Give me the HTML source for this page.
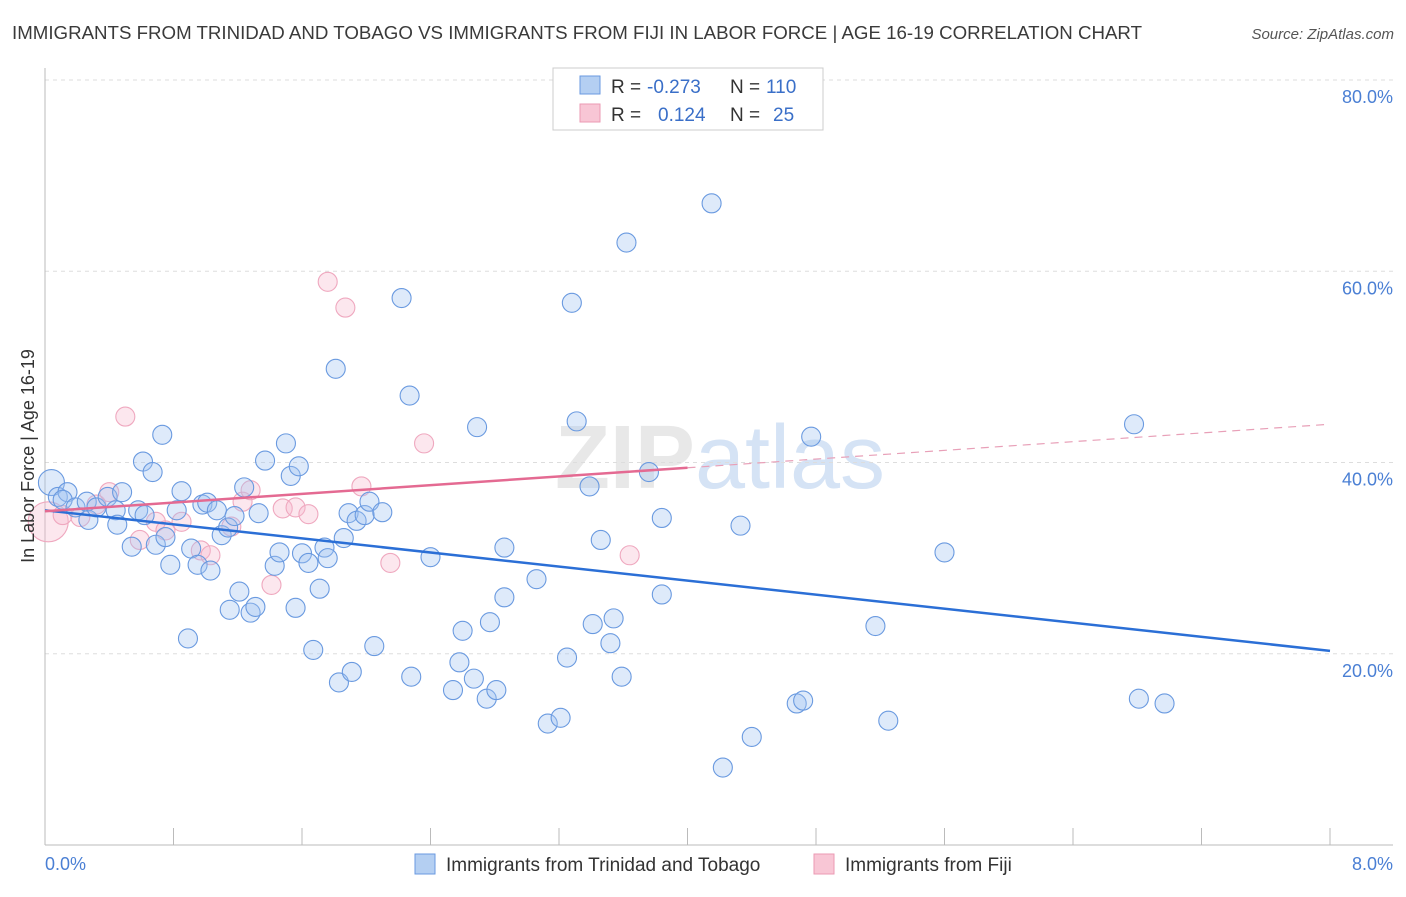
<!DOCTYPE html>
<html><head><meta charset="utf-8"><style>
body{margin:0;background:#fff;font-family:"Liberation Sans",sans-serif}
svg text{font-family:"Liberation Sans",sans-serif}
</style></head><body>
<svg id="chart" width="1406" height="892">
<text x="12" y="39" font-size="18" fill="#3a3a3a" textLength="1130" lengthAdjust="spacingAndGlyphs">IMMIGRANTS FROM TRINIDAD AND TOBAGO VS IMMIGRANTS FROM FIJI IN LABOR FORCE | AGE 16-19 CORRELATION CHART</text>
<text x="1394" y="39" font-size="15" fill="#555" text-anchor="end" font-style="italic">Source: ZipAtlas.com</text>
<text x="720" y="488" font-size="90" fill="#e8e8e8" text-anchor="middle" font-family="Liberation Serif" font-weight="bold">ZIP<tspan fill="#d5e3f5" font-family="Liberation Sans" font-weight="normal">atlas</tspan></text>
<g id="grid"></g><g id="axes"></g><g id="marks"></g>
<text transform="translate(34,456) rotate(-90)" font-size="18" fill="#333" text-anchor="middle">In Labor Force | Age 16-19</text>
<text x="45" y="870" font-size="18" fill="#4a7fd4">0.0%</text>
<text x="1393" y="870" font-size="18" fill="#4a7fd4" text-anchor="end">8.0%</text>
<g>
<rect x="553" y="68" width="270" height="62" fill="#fff" stroke="#ccc"/>
<rect x="580" y="76" width="20" height="18" fill="#b4cff2" stroke="#6a9ae0"/>
<rect x="580" y="104" width="20" height="18" fill="#f8c6d5" stroke="#eb9ab3"/>
<text y="93" font-size="19" fill="#333"><tspan x="611">R =</tspan><tspan x="647" fill="#3a6fc8">-0.273</tspan><tspan x="730">N =</tspan><tspan x="766" fill="#3a6fc8">110</tspan></text>
<text y="121" font-size="19" fill="#333"><tspan x="611">R =</tspan><tspan x="658" fill="#3a6fc8">0.124</tspan><tspan x="730">N =</tspan><tspan x="773" fill="#3a6fc8">25</tspan></text>
</g>
<g>
<rect x="415" y="854" width="20" height="20" fill="#b4cff2" stroke="#6a9ae0"/>
<text x="446" y="871" font-size="19" fill="#333">Immigrants from Trinidad and Tobago</text>
<rect x="814" y="854" width="20" height="20" fill="#f8c6d5" stroke="#eb9ab3"/>
<text x="845" y="871" font-size="19" fill="#333">Immigrants from Fiji</text>
</g>
</svg>
<script>
const yTicks=[20,40,60,80];
const yTickLabels=["20.0%","40.0%","60.0%","80.0%"];
const xTicks=[0,0.8,1.6,2.4,3.2,4,4.8,5.6,6.4,7.2,8];
const blueX=[.04,.08,.14,.11,.19,.26,.27,.32,.39,.44,.48,.45,.54,.58,.62,.69,.73,.61,.67,.75,.78,.82,.85,.89,.91,.95,.98,1.01,1.03,1.07,1.10,1.14,1.15,1.18,1.21,1.24,1.28,1.31,1.33,1.37,1.43,1.46,1.50,1.53,1.56,1.58,1.60,1.64,1.67,1.71,1.74,1.76,1.81,1.83,1.86,1.89,1.91,1.94,1.99,2.02,2.05,2.10,2.22,2.27,2.28,2.40,2.54,2.58,2.60,2.67,2.69,2.75,2.77,2.81,2.86,2.86,3.06,3.13,3.21,3.25,3.28,3.31,3.39,3.41,3.46,3.52,3.54,3.59,3.62,3.76,3.84,3.84,4.15,4.22,4.33,4.40,4.68,4.72,4.77,5.17,5.25,5.60,6.78,6.81,6.97];
const blueY=[37.9,36.4,36.9,36.1,35.3,35.9,34.0,35.3,36.4,35.0,36.9,33.5,31.2,35.0,34.5,31.4,42.9,40.1,39.0,32.2,29.3,35.0,37.0,21.6,31.0,29.3,35.6,35.8,28.7,35.0,32.4,33.2,24.6,34.4,26.5,37.4,24.3,24.9,34.7,40.2,29.2,30.6,42.0,38.6,24.8,39.6,30.5,29.5,20.4,26.8,31.1,30.0,49.8,17.0,32.1,34.7,18.1,33.9,34.5,35.9,20.8,34.8,57.2,47.0,17.6,30.1,16.2,19.1,22.4,17.4,43.7,15.3,23.3,16.2,31.1,25.9,27.8,12.7,13.3,19.6,56.7,44.3,37.5,23.1,31.9,21.1,23.7,17.6,63.0,39.0,34.2,26.2,67.1,8.1,33.4,11.3,14.8,15.1,42.7,22.9,13.0,30.6,44.0,15.3,14.8];
const pinkX=[.02,.11,.22,.32,.40,.50,.59,.69,.75,.85,.97,1.03,1.16,1.23,1.28,1.41,1.48,1.56,1.64,1.76,1.87,1.97,2.15,2.36,3.64];
const pinkY=[33.8,34.5,34.3,35.6,36.9,44.8,31.9,33.8,32.9,33.8,30.8,30.3,33.3,35.9,37.1,27.2,35.2,35.3,34.6,58.9,56.2,37.5,29.5,42.0,30.3];
const blueTrend=[35.0,20.3];
const pinkTrend=[34.9,44.0];
const pinkSolidEnd=4.0;

const NS="http://www.w3.org/2000/svg";
const xs=v=>45+v/8*1285;
const ys=v=>845-v*9.5625;
function mk(tag,attrs,parent){const e=document.createElementNS(NS,tag);for(const k in attrs)e.setAttribute(k,attrs[k]);parent.appendChild(e);return e;}
const grid=document.getElementById('grid'),axes=document.getElementById('axes'),marks=document.getElementById('marks');
yTicks.forEach((t,i)=>{
 const l=mk('line',{x1:45,x2:1393,y1:ys(t),y2:ys(t),stroke:'#ddd','stroke-dasharray':'4,4'},grid);
 
 
 const tx=mk('text',{x:1393,y:ys(t)+23,'font-size':18,fill:'#4a7fd4','text-anchor':'end'},grid);
 tx.textContent=yTickLabels[i];
 
 
});
const ya=mk('line',{x1:45,x2:45,y1:68,y2:845,stroke:'#bbb'},axes);


const xa=mk('line',{x1:45,x2:1393,y1:845,y2:845,stroke:'#bbb'},axes);


xTicks.forEach(t=>{
 const l=mk('line',{x1:xs(t),x2:xs(t),y1:828,y2:845,stroke:'#bbb'},axes);
 
 
});
function dots(X,Y,fill,stroke,name,bigR){
 X.forEach((x,i)=>{
  const r=i===0?bigR:9.5;
  const c=mk('circle',{cx:xs(x),cy:ys(Y[i]),r:r,fill:fill,stroke:stroke,'stroke-width':1.1},marks);
  
  
 });
}
dots(pinkX,pinkY,'rgba(246,185,205,0.35)','#efa8bf','pink-point',20);
dots(blueX,blueY,'rgba(160,195,240,0.35)','#6a9ae0','blue-point',13);
const bl=mk('line',{x1:xs(0),y1:ys(blueTrend[0]),x2:xs(8),y2:ys(blueTrend[1]),stroke:'#2b6fd6','stroke-width':2.5},marks);


const pm=pinkTrend[0]+(pinkTrend[1]-pinkTrend[0])*pinkSolidEnd/8;
const pl=mk('line',{x1:xs(0),y1:ys(pinkTrend[0]),x2:xs(pinkSolidEnd),y2:ys(pm),stroke:'#e46a92','stroke-width':2.5},marks);


const pd=mk('line',{x1:xs(pinkSolidEnd),y1:ys(pm),x2:xs(8),y2:ys(pinkTrend[1]),stroke:'#e8a0b8','stroke-width':1.2,'stroke-dasharray':'8,6'},marks);


</script>
</body></html>
